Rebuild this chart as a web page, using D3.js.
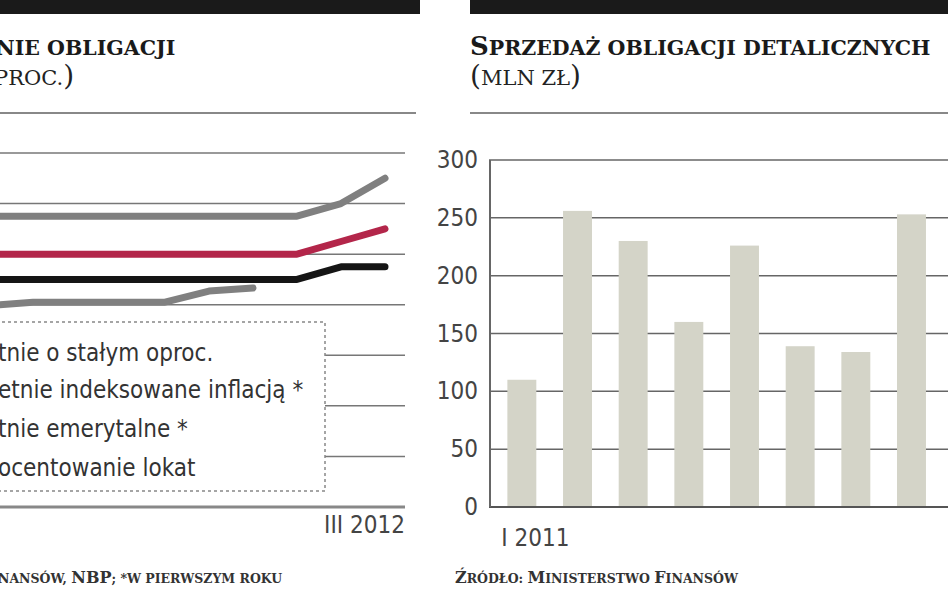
<!DOCTYPE html>
<html><head><meta charset="utf-8">
<script src="https://cdn.jsdelivr.net/npm/d3@7"></script>
<style>body{margin:0;background:#fff}svg{display:block}</style></head>
<body><svg id="c" width="948" height="593"></svg>
<script>
const months = ["VI 2011","VII 2011","VIII 2011","IX 2011","X 2011","XI 2011","XII 2011","I 2012","II 2012","III 2012"];
const seriesNames = ["…tnie o stałym oproc.","…etnie indeksowane inflacją *","…tnie emerytalne *","…ocentowanie lokat"];
const sTop   = [5.75,5.75,5.75,5.75,5.75,5.75,5.75,5.75,6.0,6.5];
const sRed   = [5.0,5.0,5.0,5.0,5.0,5.0,5.0,5.0,5.25,5.5];
const sBlack = [4.5,4.5,4.5,4.5,4.5,4.5,4.5,4.5,4.75,4.75];
const sLow   = [3.98,4.05,4.05,4.05,4.05,4.27,4.33,null,null,null];
const leftTicks = [0,1,2,3,4,5,6,7];
const barCats = ["I 2011","II","III","IV","V","VI","VII","VIII","IX"];
const barVals = [110,256,230,160,226,139,134,253,150];
const barTicks = [0,50,100,150,200,250,300];

const svg = d3.select("#c");
const serif = "'DejaVu Serif', serif";
const cond = "'Liberation Sans Narrow','DejaVu Sans Condensed',sans-serif";

// small-caps helper: parts = [[text, big?], ...]
function sc(x,y,parts,big,small,bold,fill){
  const t=svg.append("text").attr("x",x).attr("y",y).attr("font-family",serif)
    .attr("font-weight",bold?"bold":"normal").attr("fill",fill||"#1a1a1a");
  parts.forEach(([s,b])=>t.append("tspan").attr("font-size",b?big:small).text(s.toUpperCase()));
  return t;
}
svg.append("rect").attr("x",0).attr("y",0).attr("width",420).attr("height",14).attr("fill","#1a1a1a");
svg.append("rect").attr("x",470).attr("y",0).attr("width",478).attr("height",14).attr("fill","#1a1a1a");
svg.append("rect").attr("x",0).attr("y",112).attr("width",416).attr("height",2).attr("fill","#888");
svg.append("rect").attr("x",470).attr("y",112).attr("width",478).attr("height",2).attr("fill","#888");
sc(-4,55,[["nie obligacji",false]],26,20.5,true);
sc(-6,85,[["proc.",false],[")",true]],28,21,false,"#222");
sc(470,55,[["S",true],["przedaż obligacji detalicznych",false]],26,20.5,true);
sc(470,85,[["(",true],["mln zł",false],[")",true]],28,21,false,"#222");

// left chart
const xl = d3.scalePoint().domain(months).range([-11,385]);
const yl = d3.scaleLinear().domain([0,7]).range([507,153]);
svg.append("g").selectAll("line").data(leftTicks.slice(1)).join("line")
  .attr("x1",0).attr("x2",405).attr("y1",d=>yl(d)).attr("y2",d=>yl(d))
  .attr("stroke","#777").attr("stroke-width",1.5);
svg.append("line").attr("x1",0).attr("x2",405).attr("y1",yl(0)).attr("y2",yl(0)).attr("stroke","#888").attr("stroke-width",3);
svg.append("text").attr("x",405).attr("y",533).attr("text-anchor","end").text(months[months.length-1])
  .attr("font-family",cond).attr("font-size",24).attr("fill","#444");
const line = d3.line().defined(d=>d.v!=null).x(d=>xl(d.m)).y(d=>yl(d.v));
[[sTop,"#808080"],[sRed,"#b3264a"],[sBlack,"#151515"],[sLow,"#808080"]].forEach(([s,c])=>{
  svg.append("path").datum(months.map((m,i)=>({m,v:s[i]}))).attr("d",line)
    .attr("fill","none").attr("stroke",c).attr("stroke-width",7).attr("stroke-linecap","round").attr("stroke-linejoin","round");
});
svg.append("rect").attr("x",-10).attr("y",322).attr("width",335).attr("height",169).attr("fill","#fff")
  .attr("stroke","#888").attr("stroke-width",1.5).attr("stroke-dasharray","3,3");
const ly=[361,398,437,476];
svg.append("g").selectAll("text").data(seriesNames).join("text")
  .attr("x",-2).attr("y",(d,i)=>ly[i]).text(d=>d.replace("…",""))
  .attr("font-family",cond).attr("font-size",24).attr("fill","#333");
sc(-2,583,[["nansów, ",false],["NBP",true],["; *w pierwszym roku",false]],16,12.5,true,"#333");

// right chart
const xb = d3.scaleBand().domain(barCats).range([489,1000]).paddingInner(0.48).paddingOuter(0.33);
const yb = d3.scaleLinear().domain([0,300]).range([507,160]);
svg.append("g").selectAll("line").data(barTicks.slice(1)).join("line")
  .attr("x1",489).attr("x2",948).attr("y1",d=>yb(d)).attr("y2",d=>yb(d)).attr("stroke","#666").attr("stroke-width",1.5);
svg.append("g").selectAll("rect").data(barCats).join("rect")
  .attr("x",d=>xb(d)).attr("width",xb.bandwidth()).attr("y",(d,i)=>yb(barVals[i])).attr("height",(d,i)=>507-yb(barVals[i]))
  .attr("fill","#d4d4c8");
svg.append("line").attr("x1",489).attr("x2",948).attr("y1",507).attr("y2",507).attr("stroke","#555").attr("stroke-width",2);
svg.append("line").attr("x1",490).attr("x2",490).attr("y1",160).attr("y2",507).attr("stroke","#666").attr("stroke-width",2);
svg.append("g").selectAll("text").data(barTicks).join("text")
  .attr("x",478).attr("y",d=>yb(d)+8).attr("text-anchor","end").text(d=>d)
  .attr("font-family",cond).attr("font-size",24).attr("fill","#444");
svg.append("text").attr("x",xb(barCats[0])-6).attr("y",546).text(barCats[0])
  .attr("font-family",cond).attr("font-size",24).attr("fill","#444");
sc(455,583,[["Ź",true],["ródło: ",false],["M",true],["inisterstwo ",false],["F",true],["inansów",false]],16,12.5,true,"#333");
</script></body></html>
